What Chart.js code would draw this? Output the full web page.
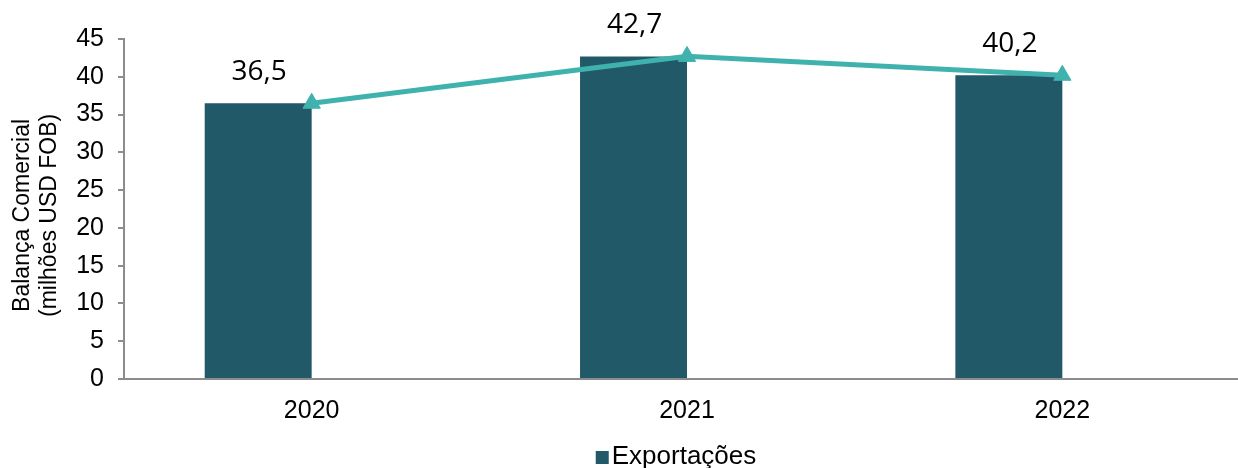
<!DOCTYPE html>
<html>
<head>
<meta charset="utf-8">
<script src="https://cdn.jsdelivr.net/npm/chart.js@4/dist/chart.umd.min.js"></script>
<style>
html,body{margin:0;padding:0;background:#fff;overflow:hidden;}
#wrap{width:1261px;height:468px;position:relative;}
</style>
</head>
<body>
<div id="wrap"><canvas id="c" width="1261" height="468"></canvas></div>
<script>
const categories = ['2020', '2021', '2022'];
const exportacoes = [36.5, 42.7, 40.2];
const linhaExportacoes = [36.5, 42.7, 40.2];
const espaco = [null, null, null];
const yMin = 0, yMax = 45, yStep = 5;
const yTitle = ['Balança Comercial  ', '(milhões USD FOB)  '];
const serieNome = 'Exportações';

const barColor = '#225968';
const lineColor = '#40B2AD';
const axisColor = '#8C8C8C';
const fontAxis = '"Liberation Sans", Arial, sans-serif';

const labelPlugin = {
  id: 'barLabels',
  afterDatasetsDraw(chart) {
    const ctx = chart.ctx;
    const meta = chart.getDatasetMeta(1);
    ctx.save();
    ctx.font = '28px "Open Sans", sans-serif';
    ctx.fillStyle = '#000';
    ctx.textAlign = 'center';
    ctx.textBaseline = 'middle';
    meta.data.forEach((el, i) => {
      const v = chart.data.datasets[1].data[i];
      ctx.fillText(String(v).replace('.', ','), el.x + 1, el.y - 31);
    });
    ctx.restore();
  }
};

const legendPlugin = {
  id: 'bottomLegend',
  afterDraw(chart) {
    const ctx = chart.ctx;
    const ds = chart.data.datasets[1];
    ctx.save();
    ctx.font = '26px ' + fontAxis;
    const tw = ctx.measureText(ds.label).width;
    const box = 13, gap = 3;
    const total = box + gap + tw;
    const cx = (chart.chartArea.left + chart.chartArea.right) / 2 - 11;
    const x0 = cx - total / 2;
    const baseY = chart.height - 4;
    ctx.fillStyle = ds.backgroundColor;
    ctx.fillRect(x0, baseY - 13, box, box);
    ctx.fillStyle = '#000';
    ctx.textAlign = 'left';
    ctx.textBaseline = 'alphabetic';
    ctx.fillText(ds.label, x0 + box + gap, baseY);
    ctx.restore();
  }
};

new Chart(document.getElementById('c'), {
  data: {
    labels: categories,
    datasets: [
      {
        type: 'line', label: 'linha', data: linhaExportacoes, order: 0,
        borderColor: lineColor, borderWidth: 5, backgroundColor: lineColor,
        pointStyle: 'triangle', pointRadius: 10, pointBackgroundColor: lineColor,
        pointBorderColor: lineColor, pointBorderWidth: 1, tension: 0, fill: false
      },
      {
        type: 'bar', label: serieNome, data: exportacoes, order: 1,
        backgroundColor: barColor, borderWidth: 0,
        categoryPercentage: 0.570, barPercentage: 1
      },
      {
        type: 'bar', label: 'espaco', data: espaco, order: 2,
        backgroundColor: 'rgba(0,0,0,0)',
        categoryPercentage: 0.570, barPercentage: 1
      }
    ]
  },
  options: {
    responsive: false,
    animation: false,
    devicePixelRatio: 1,
    layout: { padding: { top: 39, left: 0, right: 0, bottom: 30 } },
    plugins: {
      tooltip: { enabled: false },
      legend: { display: false }
    },
    scales: {
      x: {
        offset: true,
        grid: { display: false },
        border: { display: true, color: axisColor, width: 2 },
        ticks: { color: '#000', font: { family: fontAxis, size: 25 }, padding: 9 },
        afterFit: (s) => { s.height = 59; }
      },
      y: {
        min: yMin, max: yMax,
        ticks: { stepSize: yStep, color: '#000', font: { family: fontAxis, size: 25 }, padding: 14 },
        grid: { drawOnChartArea: false, drawTicks: true, tickLength: 6, color: axisColor, lineWidth: 2 },
        border: { display: true, color: axisColor, width: 2 },
        title: {
          display: true, text: yTitle, color: '#000',
          font: { family: fontAxis, size: 23, lineHeight: 1.17 }, padding: { top: 9, bottom: 2 }
        },
        afterFit: (s) => { s.width = 124; }
      }
    }
  },
  plugins: [labelPlugin, legendPlugin]
});
</script>
</body>
</html>
